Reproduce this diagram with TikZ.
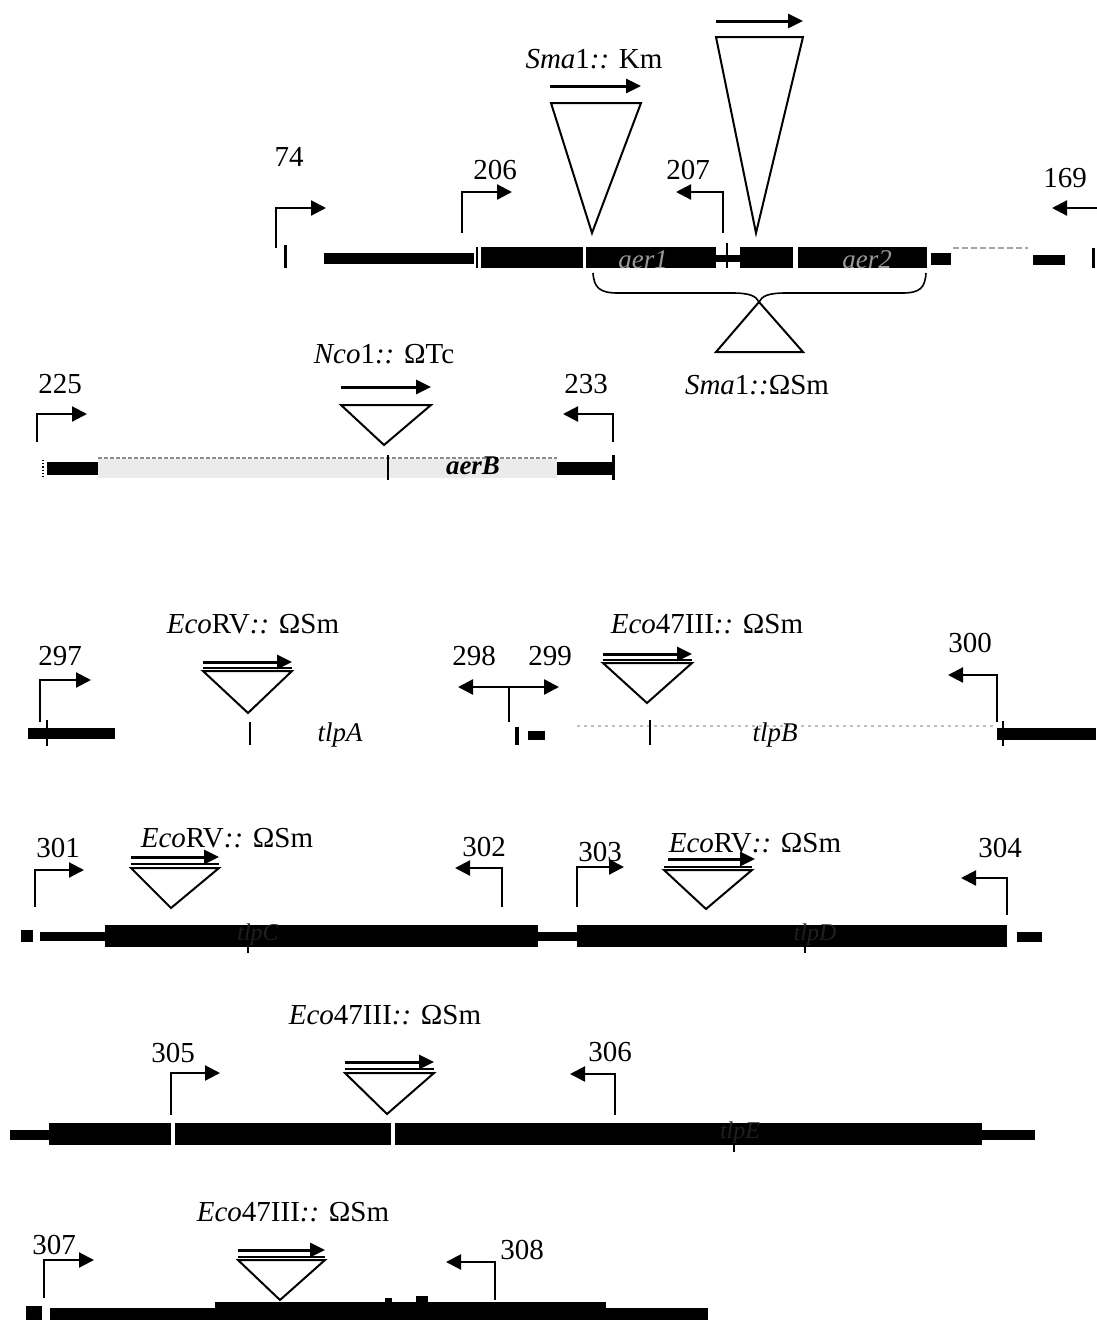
\documentclass[tikz,border=0pt]{standalone}
\usepackage{fontspec}
\setmainfont{Liberation Serif}
\usetikzlibrary{arrows.meta}
\begin{document}
\begin{tikzpicture}[x=1pt,y=-1pt,
  lbl/.style={font=\fontsize{29}{30}\selectfont, inner sep=0pt},
  genelbl/.style={font=\fontsize{27}{28}\selectfont\itshape, inner sep=0pt},
  hidlbl/.style={font=\fontsize{24}{26}\selectfont\itshape, inner sep=0pt, text=black!88},
  hookline/.style={line width=2.2pt, -{Triangle[length=15pt,width=15pt]}},
  dblhook/.style={line width=2.4pt, {Triangle[length=15pt,width=15pt]}-{Triangle[length=15pt,width=15pt]}},
  insarrow/.style={line width=3pt, -{Triangle[length=15pt,width=14pt]}},
  ins/.style={draw, line width=2pt, line join=miter},
  tick/.style={line width=2pt},
  faint/.style={draw=black!35, line width=1.5pt, dash pattern=on 6pt off 3pt}
]
\useasboundingbox (0,0) rectangle (1096,1320);
\fill[white] (0,0) rectangle (1096,1320);

% ================= Row 1: aer region =================
\draw[tick, line width=3pt] (285,245) -- (285,268);
\fill (324,253) rectangle (474,264);
\draw[tick] (477,247) -- (477,268);
\fill (481,247) rectangle (583,268);
\fill (586,247) rectangle (716,268);
\fill (716,255) rectangle (740,262);
\draw[tick] (727,243) -- (727,268);
\fill (740,247) rectangle (793,268);
\fill (798,247) rectangle (927,268);
\fill (931,253) rectangle (951,265);
\draw[faint] (953,248) -- (1028,248);
\fill (1033,255) rectangle (1065,265);
\draw[tick, line width=3pt] (1093,248) -- (1093,268);
\node[genelbl, text=black!40] (aerone) at (643,260) {aer1};
\node[genelbl, text=black!40] (aertwo) at (867,260) {aer2};

\coordinate (h74) at (276,248);
\draw[hookline] (h74) |- (326,208);
\node[lbl] (l74) at (289,157) {74};
\coordinate (h206) at (462,233);
\draw[hookline] (h206) |- (512,192);
\node[lbl] (l206) at (495,170) {206};
\coordinate (h207) at (723,233);
\draw[hookline] (h207) |- (676,192);
\node[lbl] (l207) at (688,170) {207};
\coordinate (h169) at (1100,208);
\draw[hookline] (h169) -- (1052,208);
\node[lbl] (l169) at (1065,178) {169};

% Sma1::Km insertion
\node[lbl] (smakm) at (594,59) {\textit{Sma}1\textit{::} Km};
\draw[insarrow] (550,86) -- (641,86);
\draw[ins] (551,103) -- (641,103) -- (592,233) -- cycle;
% large insertion
\draw[insarrow] (716,21) -- (803,21);
\draw[ins] (716,37) -- (803,37) -- (756,233) -- cycle;

% brace and Sma1::OmegaSm
\draw[line width=1.6pt] (593,273) .. controls (594,288) and (600,293) .. (618,293)
  -- (732,293) .. controls (750,293) and (756,296) .. (759,302)
  .. controls (762,296) and (768,293) .. (786,293)
  -- (902,293) .. controls (920,293) and (925,288) .. (926,273);
\draw[ins] (759,302) -- (803,352) -- (716,352) -- cycle;
\node[lbl] (smasm) at (757,385) {\textit{Sma}1\textit{::}ΩSm};

% ================= Row 2: aerB =================
\fill[black!8] (98,459) rectangle (557,478);
\draw[faint, draw=black!45, dash pattern=on 4pt off 2pt] (98,458) -- (557,458);
\fill (47,462) rectangle (98,475);
\draw[tick, line width=1.2pt, dotted] (43,460) -- (43,477);
\fill (557,462) rectangle (612,475);
\draw[tick, line width=3pt] (613,455) -- (613,480);
\draw[tick] (388,455) -- (388,480);
\node[genelbl, font=\fontsize{27}{28}\selectfont\itshape\bfseries] (aerB) at (473,466) {aerB};

\coordinate (h225) at (37,442);
\draw[hookline] (h225) |- (87,414);
\node[lbl] (l225) at (60,384) {225};
\coordinate (h233) at (613,442);
\draw[hookline] (h233) |- (563,414);
\node[lbl] (l233) at (586,384) {233};

\node[lbl] (ncotc) at (384,354) {\textit{Nco}1\textit{::} ΩTc};
\draw[insarrow] (341,387) -- (431,387);
\draw[ins] (341,405) -- (431,405) -- (384,445) -- cycle;

% ================= Row 3: tlpA / tlpB =================
\fill (28,728) rectangle (115,739);
\draw[tick, line width=2.5pt] (47,720) -- (47,746);
\draw[tick, line width=1.5pt] (250,722) -- (250,745);
\node[genelbl] (tlpA) at (340,735) {tlpA};
\coordinate (h297) at (40,722);
\draw[hookline] (h297) |- (91,680);
\node[lbl] (l297) at (60,656) {297};

\node[lbl] (ecorv1) at (253,624) {\textit{Eco}RV\textit{::} ΩSm};
\draw[insarrow] (203,662) -- (292,662);
\draw[line width=2pt] (203,668) -- (292,668);
\draw[ins] (203,671) -- (292,671) -- (248,713) -- cycle;

\coordinate (h298) at (509,722);
\coordinate (t298) at (458,687);
\coordinate (t299) at (559,687);
\draw[line width=2pt] (h298) -- (509,687);
\draw[dblhook] (t298) -- (t299);
\node[lbl] (l298) at (474,656) {298};
\node[lbl] (l299) at (550,656) {299};
\draw[tick, line width=4pt] (517,727) -- (517,745);
\fill (528,731) rectangle (545,740);
\draw[faint, draw=black!25, dash pattern=on 3pt off 4pt] (577,726) -- (993,726);
\draw[tick, line width=1.5pt] (650,720) -- (650,745);
\node[genelbl] (tlpB) at (775,735) {tlpB};

\node[lbl] (eco47a) at (707,624) {\textit{Eco}47III\textit{::} ΩSm};
\draw[insarrow] (603,654) -- (692,654);
\draw[line width=2pt] (603,660) -- (692,660);
\draw[ins] (603,663) -- (692,663) -- (647,703) -- cycle;

\coordinate (h300) at (997,722);
\draw[hookline] (h300) |- (948,675);
\node[lbl] (l300) at (970,643) {300};
\fill (997,728) rectangle (1096,740);
\draw[tick, line width=2.5pt] (1003,721) -- (1003,746);

% ================= Row 4: 301-304 =================
\fill (21,930) rectangle (33,942);
\fill (40,932) rectangle (105,941);
\fill (105,925) rectangle (538,947);
\fill (538,932) rectangle (577,941);
\fill (577,925) rectangle (1007,947);
\fill (1017,932) rectangle (1042,942);
\draw[tick, line width=1.5pt] (248,946) -- (248,953);
\draw[tick, line width=1.5pt] (805,946) -- (805,953);
\node[hidlbl] (tlpC) at (258,935) {tlpC};
\node[hidlbl] (tlpD) at (815,935) {tlpD};

\coordinate (h301) at (35,907);
\draw[hookline] (h301) |- (84,870);
\node[lbl] (l301) at (58,848) {301};
\coordinate (h302) at (502,907);
\draw[hookline] (h302) |- (455,868);
\node[lbl] (l302) at (484,847) {302};
\coordinate (h303) at (577,907);
\draw[hookline] (h303) |- (624,867);
\node[lbl] (l303) at (600,852) {303};
\coordinate (h304) at (1007,915);
\draw[hookline] (h304) |- (961,878);
\node[lbl] (l304) at (1000,848) {304};

\node[lbl] (ecorv2) at (227,838) {\textit{Eco}RV\textit{::} ΩSm};
\draw[insarrow] (131,857) -- (219,857);
\draw[line width=2pt] (131,864) -- (219,864);
\draw[ins] (131,868) -- (219,868) -- (171,908) -- cycle;

\node[lbl] (ecorv3) at (755,843) {\textit{Eco}RV\textit{::} ΩSm};
\draw[insarrow] (668,859) -- (755,859);
\draw[line width=2pt] (664,867) -- (752,867);
\draw[ins] (664,870) -- (752,870) -- (706,909) -- cycle;

% ================= Row 5: 305/306 =================
\fill (10,1130) rectangle (49,1140);
\fill (49,1123) rectangle (171,1145);
\fill (175,1123) rectangle (391,1145);
\fill (395,1123) rectangle (982,1145);
\fill (982,1130) rectangle (1035,1140);
\draw[tick, line width=1.5pt] (734,1144) -- (734,1152);
\node[hidlbl] (tlpE) at (740,1133) {tlpE};

\coordinate (h305) at (171,1115);
\draw[hookline] (h305) |- (220,1073);
\node[lbl] (l305) at (173,1053) {305};
\coordinate (h306) at (615,1115);
\draw[hookline] (h306) |- (570,1074);
\node[lbl] (l306) at (610,1052) {306};

\node[lbl] (eco47b) at (385,1015) {\textit{Eco}47III\textit{::} ΩSm};
\draw[insarrow] (345,1062) -- (434,1062);
\draw[line width=2pt] (345,1069) -- (434,1069);
\draw[ins] (345,1073) -- (434,1073) -- (387,1114) -- cycle;

% ================= Row 6: 307/308 =================
\fill (26,1306) rectangle (42,1320);
\fill (50,1308) rectangle (708,1320);
\fill (215,1302) rectangle (606,1320);
\fill (385,1298) rectangle (392,1302);
\fill (416,1296) rectangle (428,1302);

\coordinate (h307) at (44,1298);
\draw[hookline] (h307) |- (94,1260);
\node[lbl] (l307) at (54,1245) {307};
\coordinate (h308) at (495,1300);
\draw[hookline] (h308) |- (446,1262);
\node[lbl] (l308) at (522,1250) {308};

\node[lbl] (eco47c) at (293,1212) {\textit{Eco}47III\textit{::} ΩSm};
\draw[insarrow] (238,1250) -- (325,1250);
\draw[line width=2pt] (238,1257) -- (325,1257);
\draw[ins] (238,1260) -- (325,1260) -- (280,1300) -- cycle;

\end{tikzpicture}
\end{document}
